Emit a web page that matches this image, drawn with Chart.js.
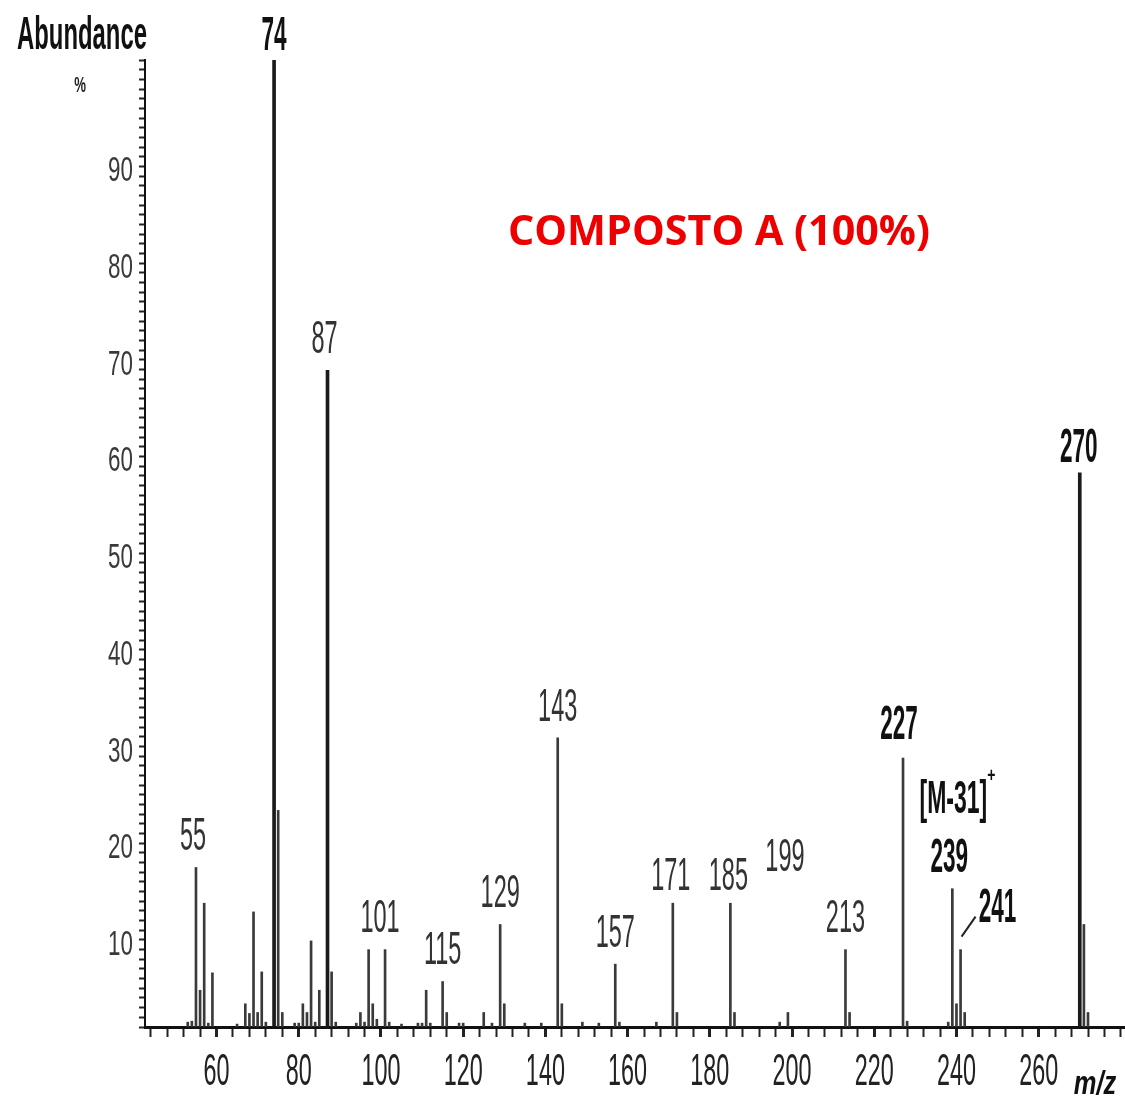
<!DOCTYPE html>
<html lang="pt">
<head>
<meta charset="UTF-8">
<title>Composto A (100%)</title>
<style>
  html, body { margin: 0; padding: 0; background: #fff; }
  #wrap { width: 1125px; height: 1098px; }
</style>
</head>
<body>
<div id="wrap"><canvas id="spectrum" width="1125" height="1098"></canvas></div>
<script src="https://cdn.jsdelivr.net/npm/chart.js@4.4.1/dist/chart.umd.min.js"></script>
<script>
// main peaks (drawn a bit thicker)
const mainMz = [74, 87, 270];
const mainAbund = [100, 67.9, 57.3];

// all other peaks, m/z and relative abundance (%)
const peakMz = [53, 54, 55, 56, 57, 58, 59, 65, 67, 68, 69, 70, 71, 72, 75, 76, 79, 80,
    81, 82, 83, 84, 85, 88, 89, 94, 95, 96, 97, 98, 99, 101, 102, 105, 109, 110, 111, 112,
    115, 116, 119, 120, 125, 127, 129, 130, 135, 139, 143, 144, 149, 153, 157, 158, 167,
    171, 172, 185, 186, 197, 199, 213, 214, 227, 228, 238, 239, 240, 241, 242, 271, 272];
const peakAbund = [0.5, 0.6, 16.5, 3.8, 12.8, 0.4, 5.6, 0.3, 2.4, 1.4, 11.9, 1.5, 5.7, 0.5, 22.4, 1.5, 0.4, 0.4,
    2.4, 1.5, 8.9, 0.5, 3.8, 5.7, 0.5, 0.4, 1.5, 0.5, 8.0, 2.4, 0.8, 8.0, 0.5, 0.3, 0.4, 0.4, 3.8, 0.4,
    4.7, 1.5, 0.4, 0.4, 1.5, 0.4, 10.6, 2.4, 0.4, 0.4, 29.9, 2.4, 0.5, 0.4, 6.5, 0.5, 0.5,
    12.8, 1.5, 12.8, 1.5, 0.5, 1.5, 8.0, 1.5, 27.8, 0.6, 0.5, 14.3, 2.4, 8.0, 1.5, 10.6, 1.5];

// peaks that carry a label, bold ones in the second list
const labelMz = [55, 74, 87, 101, 115, 129, 143, 157, 171, 185, 199, 213, 227, 239, 241, 270];
const boldMz = [74, 227, 239, 241, 270];

// axis tick labels
const xTickLabels = [60, 80, 100, 120, 140, 160, 180, 200, 220, 240, 260];
const yTickLabels = [10, 20, 30, 40, 50, 60, 70, 80, 90];

const NARROW = '"Liberation Sans Narrow", "Liberation Sans", Arial, sans-serif';

// little nudges [dx, dy] for labels that don't sit right above their peak
const labelNudge = {
    55: [-3, 0], 74: [0, 7], 87: [-3, 0], 101: [-5, 0], 171: [-2, 4], 185: [-2, 4],
    199: [-3, -124], 227: [-4, -2], 239: [-3, 0], 241: [37, -11], 270: [-1, 6]
};

// linear scale whose tick labels are squeezed horizontally (the spectrum font is very condensed)
class SqueezedScale extends Chart.LinearScale {
    drawLabels(chartArea) {
        const ctx = this.ctx;
        const sx = this.options.squeeze || 1;
        this.getLabelItems(chartArea).forEach(item => {
            if (item.label === '' || item.label == null) return;
            const o = item.options;
            ctx.save();
            ctx.font = item.font.string;
            ctx.fillStyle = o.color;
            ctx.textAlign = o.textAlign;
            ctx.textBaseline = o.textBaseline;
            ctx.translate(o.translation[0], o.translation[1]);
            ctx.scale(sx, 1);
            ctx.fillText(item.label, 0, item.textOffset);
            ctx.restore();
        });
    }
}
SqueezedScale.id = 'squeezed';
SqueezedScale.defaults = Chart.LinearScale.defaults;
Chart.register(SqueezedScale);

function allPeaks() {
    const map = {};
    mainMz.forEach((m, i) => map[m] = mainAbund[i]);
    peakMz.forEach((m, i) => map[m] = peakAbund[i]);
    return map;
}

// text squeezed horizontally, centred on (cx, cy) using the cap height
function squeezed(ctx, text, cx, cy, size, weight, sx, color, style) {
    ctx.save();
    ctx.font = (style || '') + ' ' + weight + ' ' + size + 'px ' + NARROW;
    ctx.fillStyle = color;
    ctx.textAlign = 'center';
    ctx.textBaseline = 'alphabetic';
    ctx.translate(cx, cy + size * 0.358);
    ctx.scale(sx, 1);
    ctx.fillText(text, 0, 0);
    ctx.restore();
}

const annotations = {
    id: 'annotations',
    afterDatasetsDraw(chart) {
        const ctx = chart.ctx;
        const xs = chart.scales.x, ys = chart.scales.y;
        const peaks = allPeaks();

        labelMz.forEach(m => {
            const bold = boldMz.includes(m);
            const nudge = labelNudge[m] || [0, 0];
            const px = xs.getPixelForValue(m) + nudge[0];
            const py = ys.getPixelForValue(peaks[m]) - 34 + nudge[1];
            if (bold) squeezed(ctx, String(m), px, py, 48, 'bold', 0.47, '#111');
            else squeezed(ctx, String(m), px, py, 47, 'normal', 0.5, '#333');
        });

        // [M-31]+ tag above 239
        const mx = xs.getPixelForValue(239) + 1;
        const my = ys.getPixelForValue(peaks[239]) - 92;
        squeezed(ctx, '[M-31]', mx, my, 46, 'bold', 0.5, '#111');
        squeezed(ctx, '+', mx + 38, my - 22, 20, 'bold', 0.7, '#111');

        // slash pointing from 241 label to its peak
        const sx = xs.getPixelForValue(241);
        const sy = ys.getPixelForValue(peaks[241]);
        ctx.save();
        ctx.strokeStyle = '#222';
        ctx.lineWidth = 2;
        ctx.beginPath();
        ctx.moveTo(sx + 1, sy - 13);
        ctx.lineTo(sx + 15, sy - 33);
        ctx.stroke();
        ctx.restore();

        // axis captions
        ctx.save();
        ctx.font = 'bold 46px ' + NARROW;
        const w = ctx.measureText('Abundance').width;
        ctx.restore();
        squeezed(ctx, 'Abundance', 82, 33, 46, 'bold', 130 / w, '#111');
        squeezed(ctx, '%', 80, 84, 22, 'bold', 0.6, '#222');
        squeezed(ctx, 'm/z', 1095, 1082, 34, 'bold', 0.75, '#111', 'italic');

        // title
        ctx.save();
        ctx.font = 'bold 42px "Open Sans", Lato, sans-serif';
        const tw = ctx.measureText('COMPOSTO A (100%)').width;
        ctx.fillStyle = '#ee0000';
        ctx.textAlign = 'center';
        ctx.textBaseline = 'alphabetic';
        ctx.translate(719, 245);
        ctx.scale(422 / tw, 1);
        ctx.fillText('COMPOSTO A (100%)', 0, 0);
        ctx.restore();
    }
};

new Chart(document.getElementById('spectrum'), {
    type: 'bar',
    data: {
        datasets: [{
            label: 'main',
            data: mainMz.map((m, i) => ({ x: m, y: mainAbund[i] })),
            backgroundColor: '#1a1a1a',
            barThickness: 3,
            grouped: false
        }, {
            label: 'peaks',
            data: peakMz.map((m, i) => ({ x: m, y: peakAbund[i] })),
            backgroundColor: '#3a3a3a',
            barThickness: 2,
            grouped: false
        }]
    },
    options: {
        responsive: false,
        animation: false,
        layout: { padding: { top: 60, right: 0, left: 0, bottom: 0 } },
        plugins: {
            legend: { display: false },
            tooltip: { enabled: false }
        },
        scales: {
            x: {
                type: 'squeezed',
                squeeze: 0.52,
                min: 42.6,
                max: 281,
                offset: false,
                border: { display: true, color: '#111', width: 3 },
                grid: {
                    display: true,
                    offset: false,
                    drawOnChartArea: false,
                    drawTicks: true,
                    tickLength: 10,
                    tickWidth: ctx => xTickLabels.includes(ctx.tick && ctx.tick.value) ? 3 : 2,
                    tickColor: '#222'
                },
                ticks: {
                    stepSize: 4,
                    includeBounds: false,
                    autoSkip: false,
                    maxRotation: 0,
                    padding: 9,
                    color: '#222',
                    font: { family: NARROW, size: 45 },
                    callback: v => xTickLabels.includes(v) ? String(v) : ''
                },
                afterFit: s => {
                    s.height = 71;
                    s.paddingLeft = 0;
                    s.paddingRight = 0;
                }
            },
            y: {
                type: 'squeezed',
                squeeze: 0.64,
                min: 0,
                max: 100,
                border: { display: true, color: '#111', width: 2 },
                grid: {
                    display: true,
                    drawOnChartArea: false,
                    drawTicks: true,
                    tickLength: 6,
                    tickWidth: 2,
                    tickColor: '#222'
                },
                ticks: {
                    stepSize: 1,
                    autoSkip: false,
                    padding: 6,
                    labelOffset: 15,
                    color: '#3a3a3a',
                    font: { family: NARROW, size: 35 },
                    callback: v => yTickLabels.includes(v) ? String(v) : ''
                },
                afterFit: s => { s.width = 145; }
            }
        }
    },
    plugins: [annotations]
});
</script>
</body>
</html>
